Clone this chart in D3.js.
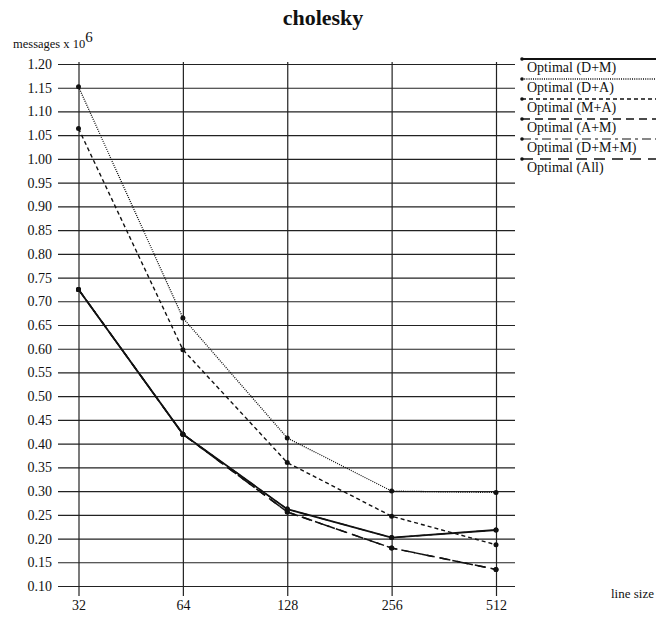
<!DOCTYPE html>
<html><head><meta charset="utf-8">
<script src="https://cdn.jsdelivr.net/npm/d3@7"></script>
<style>body{margin:0;background:#fff;} text{font-family:"Liberation Serif","DejaVu Serif",serif;fill:#111;}</style>
</head><body>
<svg id="c" width="668" height="618"></svg>
<script>
const categories = ["32","64","128","256","512"];
const yTicks = [0.10,0.15,0.20,0.25,0.30,0.35,0.40,0.45,0.50,0.55,0.60,0.65,0.70,0.75,0.80,0.85,0.90,0.95,1.00,1.05,1.10,1.15,1.20];
const seriesNames = ["Optimal (D+M)","Optimal (D+A)","Optimal (M+A)","Optimal (A+M)","Optimal (D+M+M)","Optimal (All)"];
const valDM   = [0.725,0.420,0.262,0.202,0.218];
const valDA   = [1.152,0.665,0.412,0.300,0.297];
const valMA   = [1.064,0.598,0.360,0.247,0.187];
const valAM   = [0.725,0.420,0.256,0.180,0.135];
const valDMM  = [0.725,0.420,0.262,0.202,0.218];
const valAll  = [0.725,0.420,0.256,0.180,0.135];

const svg = d3.select("#c");
const x = d3.scalePoint().domain(categories).range([78.5,496]);
const y = d3.scaleLinear().domain([0.10,1.20]).range([586,64]);

const styles = [
  {dash:null, w:1.8},
  {dash:"1,1.2", w:1.3},
  {dash:"4,3", w:1.4},
  {dash:"8,5", w:1.5},
  {dash:"9,4,3,4", w:1.2},
  {dash:"11,7", w:1.5}
];
const series = [valDM,valDA,valMA,valAM,valDMM,valAll].map((v,i)=>({name:seriesNames[i],values:v,style:styles[i]}));

// title
svg.append("text").attr("x",323).attr("y",25).attr("text-anchor","middle")
  .attr("font-size",22).attr("font-weight","bold").text("cholesky");

// y label
const yl = svg.append("text").attr("x",13).attr("y",48).attr("font-size",12.5);
yl.append("tspan").text("messages x 10");
yl.append("tspan").attr("dy",-6).attr("font-size",15).text("6");

// horizontal grid
const yAxis = d3.axisLeft(y).tickValues(yTicks).tickFormat(d3.format(".2f")).tickSize(-(515-58)).tickPadding(6);
const ga = svg.append("g").attr("transform","translate(58,0)").call(yAxis);
ga.select(".domain").remove();
ga.selectAll(".tick line").attr("stroke","#222").attr("stroke-width",1.2);
ga.selectAll(".tick text").attr("font-size",14).attr("fill","#111");

// vertical lines
const xAxis = d3.axisBottom(x).tickSize(-(596-62)).tickPadding(4);
const gx = svg.append("g").attr("transform","translate(0,596)").call(xAxis);
gx.select(".domain").remove();
gx.selectAll(".tick line").attr("stroke","#222").attr("stroke-width",1.2);
gx.selectAll(".tick text").attr("font-size",14).attr("fill","#111");

svg.append("text").attr("x",611).attr("y",598).attr("font-size",13).text("line size");

// lines (draw overlapping ones underneath)
const line = d3.line().x((d,i)=>x(categories[i])).y(d=>y(d));
const order = [4,5,3,2,1,0];
order.forEach(i=>{
  const s = series[i];
  svg.append("path").datum(s.values).attr("d",line).attr("fill","none")
    .attr("stroke","#111").attr("stroke-width",s.style.w)
    .attr("stroke-dasharray",s.style.dash);
  svg.selectAll(null).data(s.values).enter().append("circle")
    .attr("cx",(d,j)=>x(categories[j])).attr("cy",d=>y(d)).attr("r",2.5).attr("fill","#111");
});

// legend
const lg = svg.append("g");
series.forEach((s,i)=>{
  const ly = 59 + i*20;
  lg.append("line").attr("x1",522).attr("x2",656).attr("y1",ly).attr("y2",ly)
    .attr("stroke","#111").attr("stroke-width",s.style.w).attr("stroke-dasharray",s.style.dash);
  lg.append("circle").attr("cx",522).attr("cy",ly).attr("r",1.8).attr("fill","#111");
  lg.append("text").attr("x",527).attr("y",ly+13).attr("font-size",14).text(s.name);
});
</script>
</body></html>
